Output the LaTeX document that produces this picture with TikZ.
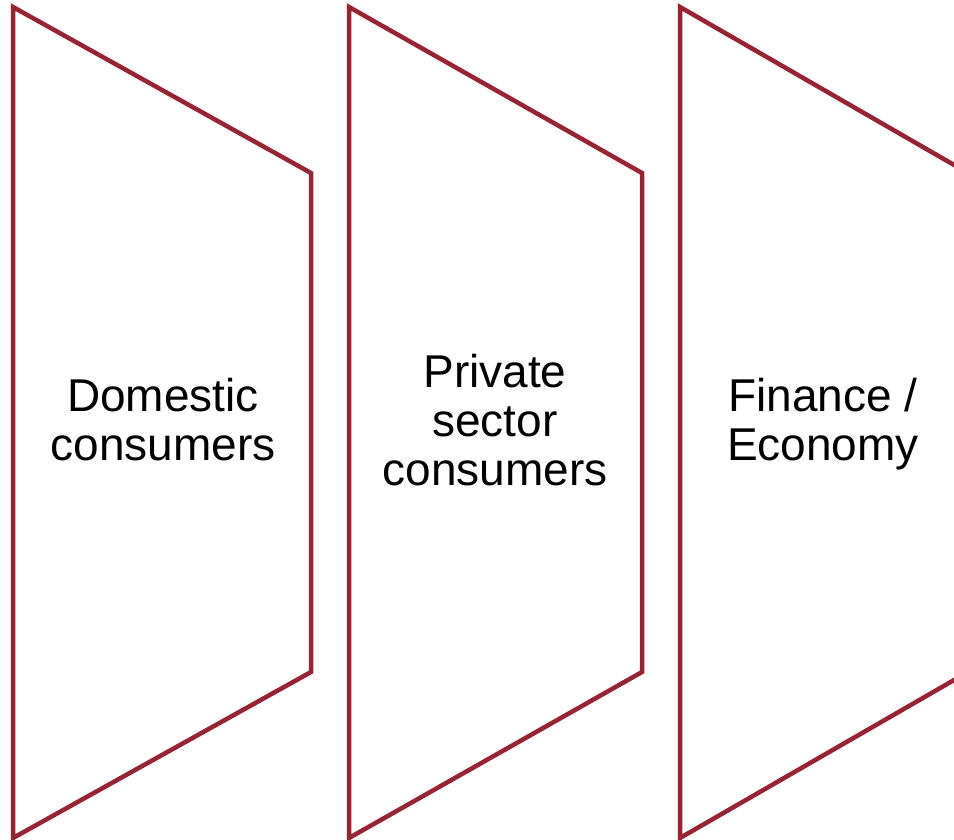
\documentclass[tikz,border=0pt]{standalone}
\usepackage{fontspec}
\setmainfont{Liberation Sans}
\definecolor{frameRed}{RGB}{150,36,52}
\tikzset{
  panel/.style = {draw=frameRed, line width=4.5pt, line join=miter},
  panelText/.style = {align=center, font=\fontsize{46}{49}\selectfont, inner sep=0pt}
}
\begin{document}
\begin{tikzpicture}[x=1pt, y=-1pt]
        \useasboundingbox (0,0) rectangle (954,839);
        \clip (0,0) rectangle (954,839);
        \coordinate (domTL) at ( 13,  7);
        \coordinate (domTR) at (311,173);
        \coordinate (domBR) at (311,672);
        \coordinate (domBL) at ( 13,838);
        \coordinate (priTL) at (349,  7);
        \coordinate (priTR) at (642,173);
        \coordinate (priBR) at (642,672);
        \coordinate (priBL) at (349,838);
        \coordinate (finTL) at (680,  7);
        \coordinate (finTR) at (968,173);
        \coordinate (finBR) at (968,672);
        \coordinate (finBL) at (680,838);
        \draw[panel] (domTL) -- (domTR) -- (domBR) -- (domBL) -- cycle;
        \draw[panel] (priTL) -- (priTR) -- (priBR) -- (priBL) -- cycle;
        \draw[panel] (finTL) -- (finTR) -- (finBR) -- (finBL) -- cycle;
        \node[panelText] (domestic) at (163,420) {Domestic\\consumers};
        \node[panelText] (private)  at (495,420) {Private\\sector\\consumers};
        \node[panelText] (finance)  at (823,424) {Finance /\\Economy};
      \end{tikzpicture}
\end{document}
